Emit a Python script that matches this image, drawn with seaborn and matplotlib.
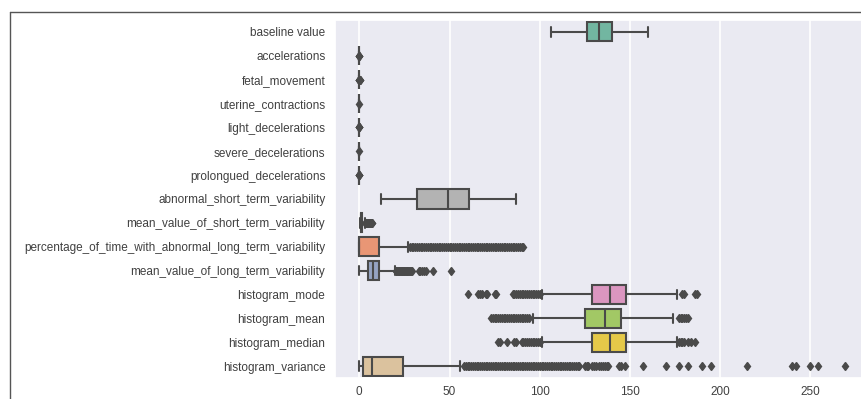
import numpy as np
import pandas as pd
import seaborn as sns
import matplotlib.pyplot as plt
from matplotlib.lines import Line2D

features = ["baseline value", "accelerations", "fetal_movement", "uterine_contractions",
            "light_decelerations", "severe_decelerations", "prolongued_decelerations",
            "abnormal_short_term_variability", "mean_value_of_short_term_variability",
            "percentage_of_time_with_abnormal_long_term_variability",
            "mean_value_of_long_term_variability", "histogram_mode", "histogram_mean",
            "histogram_median", "histogram_variance"]

whisker_low = [106, 0, 0, 0, 0, 0, 0, 12, 0.2, 0, 0, 101, 96, 101, 0]
q1 = [126, 0, 0, 0.002, 0, 0, 0, 32, 0.7, 0, 4.6, 129, 125, 129, 2]
median = [133, 0.002, 0, 0.004, 0, 0, 0, 49, 1.2, 0, 7.4, 139, 136, 139, 7]
q3 = [140, 0.006, 0.003, 0.007, 0.003, 0, 0, 61, 1.7, 11, 10.8, 148, 145, 148, 24]
whisker_high = [160, 0.014, 0.007, 0.014, 0.007, 0, 0, 87, 3.2, 27, 20.0, 176, 174, 176, 56]

out_baseline = []
out_accelerations = [0.016, 0.017, 0.018, 0.019]
out_fetal = [0.008, 0.01, 0.02, 0.05, 0.1, 0.2, 0.3, 0.481]
out_uterine = [0.015]
out_light = [0.008, 0.009, 0.01, 0.012, 0.015]
out_severe = [0.001]
out_prolongued = [0.001, 0.002, 0.003, 0.004, 0.005]
out_abnormal_short = []
out_mean_short = [3.4, 3.6, 3.8, 4.0, 4.2, 4.4, 4.6, 4.8, 5.0, 5.2, 5.4, 5.6, 5.8,
                  6.0, 6.2, 6.4, 6.6, 6.9, 7.0]
out_percentage = [28, 29, 30, 31, 32, 33, 34, 35, 36, 37, 38, 39, 40, 41, 42, 43, 44,
                  45, 46, 47, 48, 49, 50, 51, 52, 53, 54, 55, 56, 57, 58, 59, 60, 61,
                  62, 63, 64, 65, 66, 67, 68, 69, 70, 71, 72, 73, 74, 75, 76, 77, 78,
                  79, 80, 81, 82, 83, 84, 85, 86, 87, 88, 89, 90, 91]
out_mean_long = [20.3, 20.6, 21.0, 21.4, 21.8, 22.2, 22.6, 23.0, 23.4, 23.8, 24.2,
                 24.6, 25.0, 25.4, 25.8, 26.2, 26.6, 27.0, 27.6, 28.2, 28.8, 29.4,
                 33.1, 33.8, 35.0, 36.0, 37.2, 40.6, 50.7]
out_mode = [60, 66, 67, 68, 70, 71, 75, 76, 85, 86, 87, 88, 89, 90, 91, 92, 93, 94,
            95, 96, 97, 98, 99, 100, 179, 180, 186, 187]
out_mean = [73, 74, 75, 76, 77, 78, 79, 80, 81, 82, 83, 84, 85, 86, 87, 88, 89, 90,
            91, 92, 93, 94, 177, 178, 179, 180, 181, 182]
out_median = [77, 78, 82, 86, 87, 90, 91, 92, 93, 94, 95, 96, 97, 98, 99, 100,
              177, 178, 179, 180, 182, 184, 186]
out_variance = [58, 59, 60, 61, 62, 63, 64, 65, 66, 67, 68, 69, 70, 71, 72, 73, 74,
                75, 76, 77, 78, 79, 80, 81, 82, 83, 84, 85, 86, 87, 88, 89, 90, 91,
                92, 93, 94, 95, 96, 97, 98, 99, 100, 101, 102, 103, 104, 105, 106,
                107, 108, 109, 110, 111, 112, 113, 114, 115, 116, 117, 118, 119, 120,
                121, 122, 125, 126, 127, 129, 130, 131, 133, 134, 135, 136, 137, 138,
                144, 145, 147, 157, 170, 177, 182, 190, 195, 215, 240, 242, 250, 254,
                269]

outliers = [out_baseline, out_accelerations, out_fetal, out_uterine, out_light,
            out_severe, out_prolongued, out_abnormal_short, out_mean_short,
            out_percentage, out_mean_long, out_mode, out_mean, out_median, out_variance]

# Build raw samples whose quartiles/whiskers reproduce the read statistics
k = 400
rows = []
for i, f in enumerate(features):
    vals = ([whisker_low[i]] + [q1[i]] * k + [median[i]] * k + [q3[i]] * k
            + [whisker_high[i]] + list(outliers[i]))
    rows.extend((f, v) for v in vals)
df = pd.DataFrame(rows, columns=["feature", "value"])

sns.set_theme(style="darkgrid")
plt.rcParams['font.family'] = ['Liberation Sans', 'DejaVu Sans']

fig = plt.figure(figsize=(8.62, 3.99), dpi=100)
ax = fig.add_axes([335 / 862, 1 - 378 / 399, 534 / 862, 358 / 399])

gray = "#4a4a4a"
sns.boxplot(data=df, x="value", y="feature", hue="feature", order=features,
            hue_order=features, palette="Set2", legend=False, ax=ax,
            linecolor=gray, linewidth=1.5, fliersize=4.5, width=0.8,
            flierprops=dict(marker="d", markerfacecolor=gray, markeredgecolor=gray))

ax.set_xlim(-13.45, 282.45)
ax.set_xticks([0, 50, 100, 150, 200, 250])
ax.set_xlabel("")
ax.set_ylabel("")
ax.yaxis.grid(False)
ax.xaxis.grid(True, color="white", linewidth=1.2)
ax.tick_params(axis="y", labelsize=8.5, pad=7, length=0, colors=".25")
ax.tick_params(axis="x", labelsize=8.5, pad=6, length=0, colors=".25")

fig.add_artist(Line2D([10 / 862, 1], [1 - 12 / 399, 1 - 12 / 399],
                      transform=fig.transFigure, color="#555555", linewidth=1))
fig.add_artist(Line2D([10 / 862, 10 / 862], [1 - 12 / 399, 0],
                      transform=fig.transFigure, color="#555555", linewidth=1))

fig.savefig("out.png", dpi=100)
